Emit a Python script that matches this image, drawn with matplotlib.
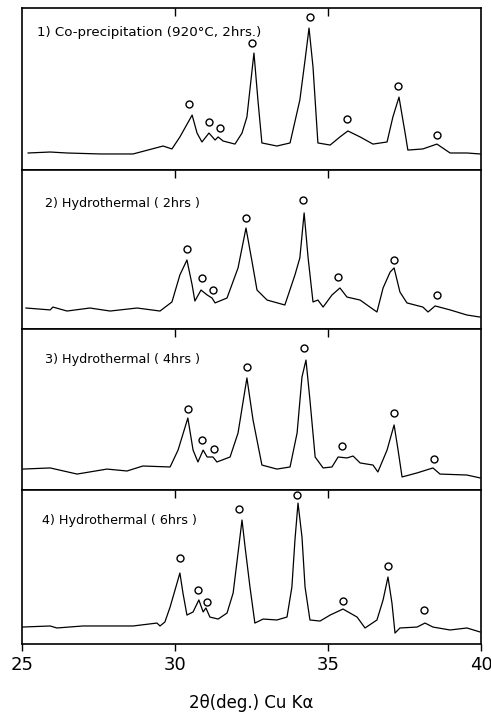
import matplotlib
matplotlib.use("Agg")
import matplotlib.pyplot as plt

# ---- data (2theta in degrees, intensity in % of panel height) ----
labels = ["1) Co-precipitation (920\u00b0C, 2hrs.)",
          "2) Hydrothermal ( 2hrs )",
          "3) Hydrothermal ( 4hrs )",
          "4) Hydrothermal ( 6hrs )"]

theta1 = [25.20, 25.92, 26.47, 27.55, 28.63, 29.61, 29.90, 30.16, 30.56, 30.72, 30.88, 31.11, 31.31, 31.41,
          31.57, 31.96, 32.19, 32.35, 32.58, 32.71, 32.84, 33.33, 33.76, 34.08, 34.25, 34.38, 34.51, 34.67,
          35.07, 35.39, 35.65, 36.05, 36.47, 36.93, 37.12, 37.32, 37.52, 37.61, 38.10, 38.56, 38.99, 39.54, 39.97]
inten1 = [10.5, 11.1, 10.5, 9.9, 9.9, 14.8, 13.0, 20.4, 33.9, 22.8, 17.3, 22.8, 18.5, 20.4,
          17.9, 16.0, 22.8, 32.7, 72.2, 43.2, 16.7, 14.8, 16.7, 43.2, 67.9, 87.6, 63.6, 16.7,
          15.4, 20.4, 24.1, 20.4, 16.0, 17.3, 32.7, 45.0, 22.8, 12.3, 13.0, 16.0, 10.5, 10.5, 9.9]
mark_t1 = [30.46, 31.11, 31.47, 32.52, 34.41, 35.62, 37.29, 38.56]
mark_i1 = [40.7, 29.6, 25.9, 78.4, 94.4, 31.5, 51.8, 21.6]

theta2 = [25.13, 25.92, 26.01, 26.47, 27.22, 27.88, 28.76, 29.51, 29.90, 30.16, 30.39, 30.56, 30.65, 30.85,
          31.05, 31.21, 31.31, 31.70, 32.06, 32.32, 32.52, 32.68, 33.01, 33.59, 33.92, 34.08, 34.22, 34.35,
          34.51, 34.67, 34.84, 35.13, 35.39, 35.62, 36.05, 36.37, 36.60, 36.80, 37.03, 37.16, 37.35, 37.58,
          38.10, 38.27, 38.50, 38.99, 39.54, 39.97]
inten2 = [13.2, 12.0, 13.8, 11.3, 13.2, 11.3, 13.2, 11.3, 17.0, 34.0, 43.4, 27.7, 17.6, 24.5,
          21.4, 19.5, 16.4, 19.5, 38.4, 63.5, 42.1, 24.5, 18.2, 15.1, 34.0, 44.7, 73.0, 44.7,
          17.0, 18.2, 13.8, 21.4, 25.8, 20.1, 18.2, 13.8, 10.7, 25.8, 35.8, 38.4, 23.3, 16.4,
          13.8, 10.7, 14.5, 12.0, 8.8, 7.5]
mark_t2 = [30.39, 30.88, 31.24, 32.32, 34.18, 35.33, 37.16, 38.56]
mark_i2 = [50.3, 32.1, 24.5, 69.8, 81.1, 32.7, 43.4, 21.4]

theta3 = [25.03, 25.92, 26.80, 27.78, 28.43, 28.95, 29.84, 30.10, 30.42, 30.59, 30.75, 30.92, 31.05, 31.24,
          31.37, 31.80, 32.06, 32.35, 32.55, 32.84, 33.33, 33.76, 33.99, 34.15, 34.28, 34.41, 34.58, 34.84,
          35.13, 35.33, 35.62, 35.82, 36.05, 36.47, 36.63, 36.93, 37.16, 37.29, 37.42, 37.91, 38.43, 38.66,
          39.54, 39.97]
inten3 = [13.0, 13.7, 9.9, 13.0, 11.8, 14.9, 14.3, 24.8, 44.7, 24.8, 17.4, 24.8, 20.5, 20.5,
          17.4, 20.5, 35.4, 69.6, 43.5, 15.5, 13.0, 14.3, 35.4, 70.2, 80.7, 55.9, 20.5, 13.7,
          14.3, 20.5, 19.9, 21.1, 16.8, 15.5, 11.2, 24.8, 40.4, 24.8, 8.1, 10.6, 13.7, 9.9,
          9.3, 7.5]
mark_t3 = [30.42, 30.88, 31.27, 32.35, 34.20, 35.46, 37.16, 38.46]
mark_i3 = [50.3, 31.1, 25.5, 76.4, 88.2, 27.3, 47.8, 19.3]

theta4 = [25.00, 25.92, 26.14, 26.99, 28.63, 29.41, 29.51, 29.67, 29.84, 30.00, 30.16, 30.26, 30.39, 30.59,
          30.78, 30.92, 31.01, 31.14, 31.41, 31.70, 31.90, 32.06, 32.19, 32.29, 32.45, 32.61, 32.88, 33.33,
          33.66, 33.82, 33.92, 34.02, 34.15, 34.25, 34.41, 34.74, 35.07, 35.49, 35.95, 36.21, 36.60, 36.80,
          36.96, 37.09, 37.19, 37.35, 37.91, 38.17, 38.43, 38.99, 39.54, 39.97]
inten4 = [11.0, 11.7, 10.4, 11.7, 11.7, 13.6, 11.7, 14.3, 24.0, 35.0, 46.1, 33.1, 18.8, 20.8,
          28.6, 20.8, 23.4, 17.5, 16.2, 20.1, 33.1, 59.1, 80.5, 63.0, 37.0, 13.6, 16.2, 15.6,
          17.5, 37.0, 67.5, 91.5, 69.4, 37.0, 15.6, 14.9, 18.8, 22.7, 17.5, 10.4, 15.6, 28.6,
          43.5, 26.6, 7.1, 10.4, 11.0, 13.6, 11.0, 9.1, 10.4, 7.8]
mark_t4 = [30.16, 30.75, 31.05, 32.09, 33.99, 35.49, 36.96, 38.14]
mark_i4 = [55.8, 35.0, 27.3, 87.6, 96.7, 27.9, 50.6, 22.1]

xticks = [25, 30, 35, 40]
xlabel = "2\u03b8(deg.) Cu K\u03b1"

series = [(theta1, inten1, mark_t1, mark_i1),
          (theta2, inten2, mark_t2, mark_i2),
          (theta3, inten3, mark_t3, mark_i3),
          (theta4, inten4, mark_t4, mark_i4)]

# ---- layout ----
plt.rcParams['font.family'] = ['DejaVu Sans']
fig = plt.figure(figsize=(4.91, 7.21), dpi=100)
gs = fig.add_gridspec(4, 1, left=22/491, right=481/491, bottom=1-644/721, top=1-8/721,
                      hspace=0, height_ratios=[162, 159, 161, 154])

label_pos = [(0.033, 0.846), (0.05, 0.79), (0.05, 0.81), (0.044, 0.80)]
label_size = [9.6, 9.2, 9.2, 9.2]

for i, (t, y, mt, mi) in enumerate(series):
    ax = fig.add_subplot(gs[i])
    ax.plot(t, y, color='black', lw=0.9)
    ax.plot(mt, mi, ls='none', marker='o', ms=5, mfc='white', mec='black', mew=1.0)
    ax.set_xlim(25, 40)
    ax.set_ylim(0, 100)
    ax.set_yticks([])
    for s in ax.spines.values():
        s.set_linewidth(1.2)
    ax.text(label_pos[i][0], label_pos[i][1], labels[i], transform=ax.transAxes,
            fontsize=label_size[i], va='center', ha='left')
    if i < 3:
        ax.set_xticks([30, 35])
        ax.tick_params(axis='x', which='both', bottom=False, top=True, labelbottom=False,
                       direction='in', length=6, width=1.0)
    else:
        ax.set_xticks(xticks)
        ax.tick_params(axis='x', bottom=True, top=False, direction='out', length=5, width=1.0,
                       labelsize=13, pad=4)
        ax.set_xlabel(xlabel, fontsize=12, labelpad=14)
        ax2 = ax.secondary_xaxis('top')
        ax2.set_xticks([30, 35])
        ax2.tick_params(direction='in', length=6, width=1.0, labeltop=False)
        ax2.spines['top'].set_visible(False)

fig.savefig("out.png", dpi=100)
